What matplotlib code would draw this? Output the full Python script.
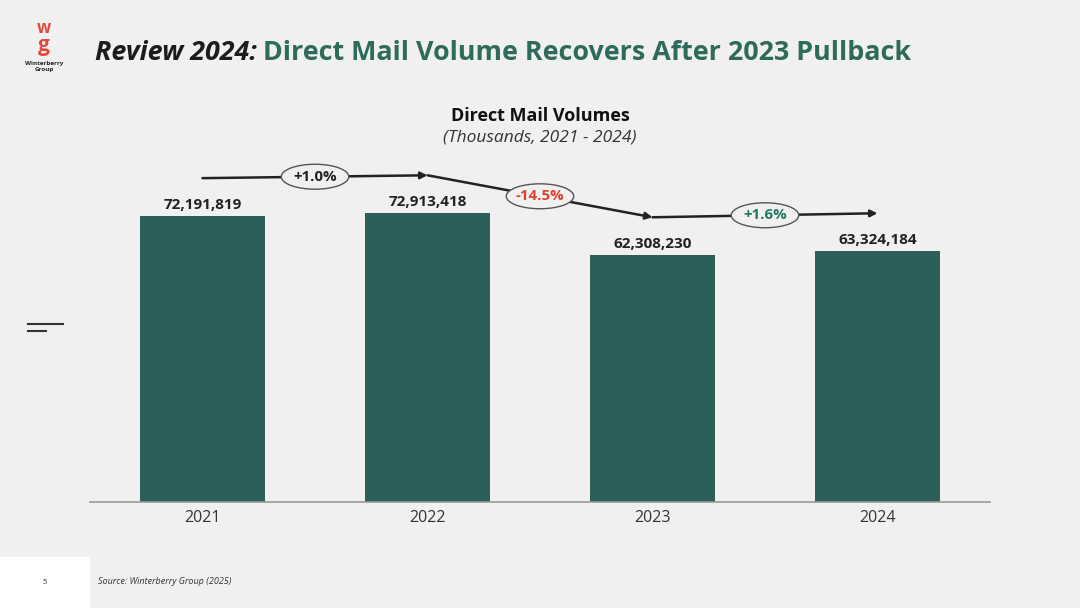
import matplotlib
matplotlib.use("Agg")
from matplotlib import pyplot as plt
from matplotlib.patches import Ellipse, Rectangle
import numpy as np

plt.rcParams['font.family'] = ['Open Sans', 'DejaVu Sans']

years = ['2021', '2022', '2023', '2024']
volumes = [72191819, 72913418, 62308230, 63324184]
changes = ['+1.0%', '-14.5%', '+1.6%']
change_colors = ['#222222', '#e0412d', '#1f7a62']

bg = '#f0f0f0'
bar_color = '#2d5f5a'
green = '#2e6b5a'

fig = plt.figure(figsize=(10.8, 6.08), dpi=100, facecolor=bg)
W, H = 1080, 608

# axes placed in pixel coords: x 90..990, y 150..502 (from top)
ax = fig.add_axes([90 / W, (H - 502) / H, 900 / W, 352 / H])
ax.set_facecolor(bg)
x = np.arange(len(years))
ax.bar(x, volumes, width=0.556, color=bar_color, zorder=2)
ax.set_xlim(-0.5, 3.5)
ax.set_ylim(0, 88.9e6)
for s in ['top', 'right', 'left']:
    ax.spines[s].set_visible(False)
ax.spines['bottom'].set_color('#999999')
ax.spines['bottom'].set_linewidth(1.2)
ax.set_yticks([])
ax.set_xticks(x)
ax.set_xticklabels(years, fontsize=11.5, color='#333333')
ax.tick_params(axis='x', length=0, pad=6)

for xi, v in zip(x, volumes):
    ax.text(xi, v + 1.0e6, '{:,}'.format(v), ha='center', va='bottom',
            fontsize=11, fontweight='bold', color='#222222')

# trend arrows between bars
offset = 9.6e6
line_y = [v + offset for v in volumes]
for i in range(len(changes)):
    ax.annotate('', xy=(x[i + 1], line_y[i + 1]), xytext=(x[i], line_y[i]),
                arrowprops=dict(arrowstyle='-|>', color='#222222', lw=1.8,
                                mutation_scale=10, shrinkA=0, shrinkB=0),
                annotation_clip=False, zorder=3)
    mx = (x[i] + x[i + 1]) / 2
    my = (line_y[i] + line_y[i + 1]) / 2
    ax.add_patch(Ellipse((mx, my), 0.30, 6.3e6, facecolor=bg, edgecolor='#555555',
                         lw=1.0, zorder=4, clip_on=False))
    ax.text(mx, my, changes[i], ha='center', va='center', fontsize=10.8,
            fontweight='bold', color=change_colors[i], zorder=5)

# titles
t1 = fig.text(95 / W, 1 - 53 / H, 'Review 2024:', fontsize=19.4, fontweight='bold',
              style='italic', color='#1c1c1c', va='center', ha='left')
fig.canvas.draw()
bb = t1.get_window_extent()
fig.text((bb.x1 + 6) / W, 1 - 53 / H, 'Direct Mail Volume Recovers After 2023 Pullback',
         fontsize=19.4, fontweight='bold', color=green, va='center', ha='left')
fig.text(540 / W, 1 - 116 / H, 'Direct Mail Volumes', fontsize=13, fontweight='bold',
         color='#111111', ha='center', va='center')
fig.text(540 / W, 1 - 138 / H, '(Thousands, 2021 - 2024)', fontsize=12.5, style='italic',
         color='#333333', ha='center', va='center')

# logo
fig.text(44 / W, 1 - 28 / H, 'w', fontsize=12, fontweight='bold', color='#e04a3c',
         ha='center', va='center')
fig.text(44 / W, 1 - 46 / H, 'g', fontsize=15, fontweight='bold', color='#e04a3c',
         ha='center', va='center')
fig.text(44 / W, 1 - 64 / H, 'Winterberry', fontsize=4.5, fontweight='bold',
         color='#222222', ha='center', va='center')
fig.text(44 / W, 1 - 70 / H, 'Group', fontsize=4.5, fontweight='bold',
         color='#222222', ha='center', va='center')

# little menu lines on the left
fig.add_artist(plt.Line2D([28 / W, 63 / W], [1 - 324 / H, 1 - 324 / H], color='#333333', lw=1.5))
fig.add_artist(plt.Line2D([28 / W, 46 / W], [1 - 331 / H, 1 - 331 / H], color='#333333', lw=1.5))

# footer
fig.add_artist(Rectangle((0, 0), 90 / W, 51 / H, transform=fig.transFigure,
                         facecolor='white', edgecolor='none'))
fig.text(45 / W, 1 - 582 / H, '5', fontsize=5.5, color='#333333', ha='center', va='center')
fig.text(98 / W, 1 - 582 / H, 'Source: Winterberry Group (2025)', fontsize=6.5,
         style='italic', color='#333333', ha='left', va='center')

fig.savefig('out.png', dpi=100, facecolor=bg)
